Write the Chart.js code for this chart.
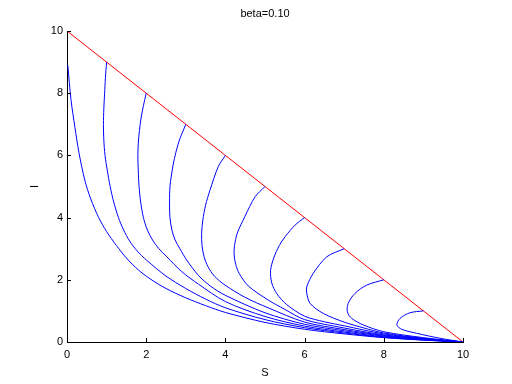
<!DOCTYPE html>
<html>
<head>
<meta charset="utf-8">
<script src="https://cdn.jsdelivr.net/npm/chart.js@4/dist/chart.umd.min.js"></script>
<style>
  html, body { margin: 0; padding: 0; background: #ffffff; }
  #wrap { width: 512px; height: 384px; }
</style>
</head>
<body>
<div id="wrap"><canvas id="c" width="512" height="384"></canvas></div>
<script>
// ---- data ----
const titleText = "beta=0.10";
const xLabel = "S";
const yLabel = "I";
const xTicks = [0, 2, 4, 6, 8, 10];
const yTicks = [0, 2, 4, 6, 8, 10];

const lineS = [0, 10];
const lineI = [10, 0];

const c0S = [0.02,0.1,0.2,0.3,0.45,0.6,0.8,1.0,1.25,1.5,1.8,2.1,2.5,3.0,3.5,4,5,6,7,8,9,10];
const c0I = [8.9,7.8,6.9,6.1,5.2,4.6,4.0,3.55,3.1,2.7,2.32,2.03,1.72,1.42,1.17,0.95,0.63,0.41,0.26,0.14,0.06,0];

const c1S = [1,0.97,0.95,0.93,0.92,0.93,0.96,1.02,1.09,1.18,1.3,1.43,1.58,1.77,2.01,2.5,3.0,3.5,4,5,6,7,8,9,10];
const c1I = [9,8.5,8,7.5,7,6.5,6,5.5,5,4.5,4,3.6,3.25,2.93,2.63,2.12,1.72,1.38,1.1,0.72,0.46,0.29,0.15,0.065,0];

const c2S = [2,1.93,1.87,1.83,1.8,1.79,1.8,1.82,1.86,1.93,2.03,2.16,2.32,2.52,2.9,3.32,4,5,6,7,8,9,10];
const c2I = [8,7.6,7.2,6.8,6.4,6,5.5,5,4.5,4,3.6,3.28,3.0,2.74,2.26,1.86,1.3,0.82,0.51,0.32,0.17,0.07,0];

const c3S = [3,2.92,2.84,2.75,2.68,2.63,2.6,2.59,2.6,2.65,2.73,2.85,3.02,3.32,3.62,4,5,6,7,8,9,10];
const c3I = [7,6.75,6.5,6.1,5.7,5.3,5.0,4.5,4.0,3.6,3.28,3.0,2.64,2.14,1.8,1.5,0.94,0.57,0.36,0.19,0.08,0];

const c4S = [4,3.82,3.61,3.5,3.43,3.4,3.41,3.46,3.56,3.72,3.99,4.49,5.08,6,7,8,9,10];
const c4I = [6,5.64,4.88,4.4,3.92,3.5,3.1,2.75,2.42,2.12,1.83,1.44,1.1,0.64,0.40,0.21,0.09,0];

const c5S = [5,4.75,4.49,4.3,4.23,4.22,4.26,4.35,4.58,5.08,5.5,6,7,8,9,10];
const c5I = [5,4.67,4.03,3.5,3.1,2.8,2.5,2.2,1.8,1.35,1.05,0.72,0.45,0.23,0.10,0];

const c6S = [6,5.76,5.51,5.36,5.22,5.14,5.17,5.3,5.55,6,6.5,7,8,9,10];
const c6I = [4,3.76,3.39,3.1,2.7,2.3,1.9,1.55,1.2,0.83,0.65,0.52,0.26,0.11,0];

const c7S = [7,6.56,6.22,6.06,6.05,6.14,6.47,7,7.5,8,9,10];
const c7I = [3,2.74,2.21,1.8,1.6,1.24,0.92,0.64,0.45,0.29,0.12,0];

const c8S = [8,7.57,7.27,7.1,7.08,7.19,7.48,8,9,10];
const c8I = [2,1.83,1.56,1.24,0.97,0.76,0.55,0.33,0.14,0];

const c9S = [9,8.66,8.41,8.33,8.45,8.83,9.42,10];
const c9I = [1,0.94,0.76,0.55,0.41,0.28,0.12,0];

// ---- build datasets ----
function pts(xs, ys) { return xs.map((x, i) => ({x: x, y: ys[i]})); }
const curves = [[c0S,c0I],[c1S,c1I],[c2S,c2I],[c3S,c3I],[c4S,c4I],[c5S,c5I],[c6S,c6I],[c7S,c7I],[c8S,c8I],[c9S,c9I]];

const datasets = curves.map(([xs, ys]) => ({
  data: pts(xs, ys),
  showLine: true,
  borderColor: '#0000ff',
  borderWidth: 1,
  pointRadius: 0,
  tension: 0.3,
  fill: false
}));
datasets.push({
  data: pts(lineS, lineI),
  showLine: true,
  borderColor: '#ff0000',
  borderWidth: 1,
  pointRadius: 0,
  tension: 0,
  fill: false
});

const FONT = "'Liberation Sans', Arial, Helvetica, sans-serif";

const innerTicks = {
  id: 'innerTicks',
  afterDraw(chart) {
    const ctx = chart.ctx;
    const xs = chart.scales.x, ys = chart.scales.y;
    const a = chart.chartArea;
    ctx.save();
    ctx.strokeStyle = '#000000';
    ctx.lineWidth = 1;
    ctx.beginPath();
    xTicks.forEach(v => {
      const px = Math.round(xs.getPixelForValue(v)) + 0.5;
      ctx.moveTo(px, a.bottom);
      ctx.lineTo(px, a.bottom - 4);
    });
    yTicks.forEach(v => {
      const py = Math.round(ys.getPixelForValue(v)) + 0.5;
      ctx.moveTo(a.left, py);
      ctx.lineTo(a.left + 4, py);
    });
    ctx.stroke();
    // title
    ctx.fillStyle = '#000000';
    ctx.font = '11px ' + FONT;
    ctx.textAlign = 'center';
    ctx.textBaseline = 'middle';
    ctx.fillText(titleText, (a.left + a.right) / 2, 14);
    ctx.restore();
  }
};

new Chart(document.getElementById('c'), {
  type: 'scatter',
  data: { datasets: datasets },
  plugins: [innerTicks],
  options: {
    responsive: false,
    animation: false,
    layout: { padding: { top: 31, right: 49, left: 0, bottom: 0 } },
    plugins: { legend: { display: false }, tooltip: { enabled: false }, title: { display: false } },
    scales: {
      x: {
        type: 'linear', min: 0, max: 10,
        afterFit(s) { s.height = 42; },
        grid: { display: true, drawOnChartArea: false, drawTicks: false },
        border: { display: true, color: '#000000', width: 1 },
        ticks: { stepSize: 2, padding: 6, color: '#000000', font: { size: 11, family: FONT }, maxRotation: 0 },
        title: { display: true, text: xLabel, color: '#000000', font: { size: 11, family: FONT }, padding: { top: 0, bottom: 4 } }
      },
      y: {
        type: 'linear', min: 0, max: 10,
        afterFit(s) { s.width = 67; },
        grid: { display: true, drawOnChartArea: false, drawTicks: false },
        border: { display: true, color: '#000000', width: 1 },
        ticks: { stepSize: 2, padding: 4, color: '#000000', font: { size: 11, family: FONT } },
        title: { display: true, text: yLabel, color: '#000000', font: { size: 11, family: FONT }, padding: { top: 28, bottom: 0 } }
      }
    }
  }
});
</script>
</body>
</html>
